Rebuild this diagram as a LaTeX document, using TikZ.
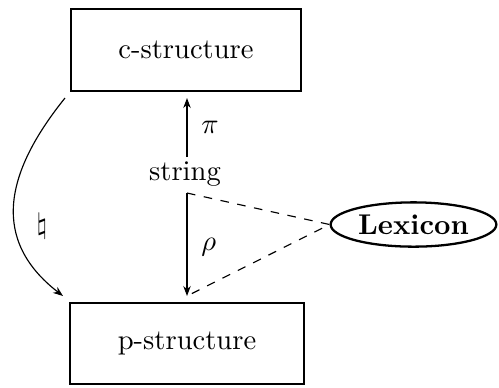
\documentclass[tikz,border=0pt]{standalone}
\usetikzlibrary{shapes.geometric,arrows.meta}
\begin{document}
\begin{tikzpicture}[x=0.35pt,y=-0.35pt,
  boxthick/.style={draw,line width=0.8pt,minimum width=80.5pt,minimum height=28.7pt,inner sep=0pt},
  boxthin/.style={draw,line width=0.7pt,minimum width=82pt,minimum height=28.5pt,inner sep=0pt},
  lexnode/.style={draw,ellipse,line width=0.8pt,minimum width=58pt,minimum height=15.5pt,inner sep=0pt,font=\bfseries},
  arr/.style={-{Stealth[length=3.5pt,width=2.6pt]},line width=0.4pt},
  dashline/.style={dashed,line width=0.4pt}]
\useasboundingbox (0,0) rectangle (499,387);
\node[boxthick] (cs) at (186,50) {c-structure};
\node[boxthin] (ps) at (187,343.5) {p-structure};
\node (str) at (185,174) {string};
\node[lexnode] (lex) at (413.5,224.5) {Lexicon};
\coordinate (pis) at (187,157);
\coordinate (pie) at (187,98);
\coordinate (rhs) at (187,193);
\coordinate (rhe) at (187,296);
\coordinate (cvs) at (65,98);
\coordinate (cve) at (63,296);
\draw[arr] (pis) -- node[right=1.5pt] {$\pi$} (pie);
\draw[arr] (rhs) -- node[right=1.5pt,yshift=-1pt] {$\rho$} (rhe);
\draw[dashline] (rhs) -- (lex.west) -- (rhe);
\draw[arr] (cvs) .. controls (3,175) and (-8,241) .. (cve);
\node (nat) at (42,226) {$\natural$};
\end{tikzpicture}
\end{document}
